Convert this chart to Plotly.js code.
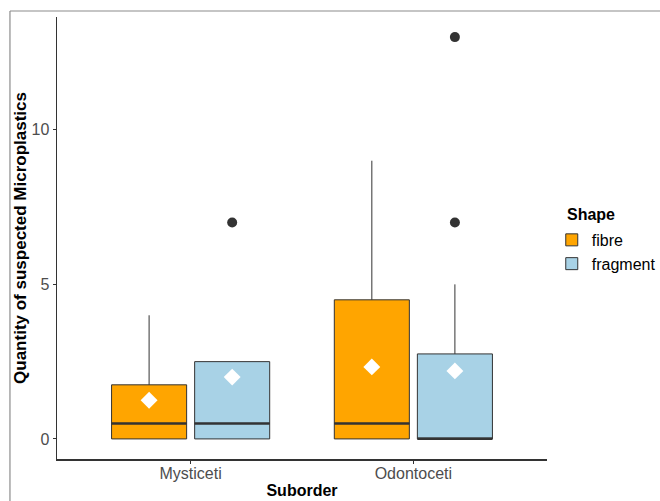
<!DOCTYPE html>
<html>
<head>
<meta charset="utf-8">
<script src="https://cdn.plot.ly/plotly-3.0.1.min.js"></script>
<style>html,body{margin:0;padding:0;background:#fff;}#chart{width:660px;height:501px;}</style>
</head>
<body>
<div id="chart"></div>
<script>
// Data
const categories = ['Mysticeti', 'Odontoceti'];
const shapes = ['fibre', 'fragment'];
const fibreLower = [0, 0];
const fibreQ1 = [0, 0];
const fibreMedian = [0.5, 0.5];
const fibreQ3 = [1.75, 4.5];
const fibreUpper = [4, 9];
const fibreMean = [1.25, 2.33];
const fragmentLower = [0, 0];
const fragmentQ1 = [0, 0];
const fragmentMedian = [0.5, 0];
const fragmentQ3 = [2.5, 2.75];
const fragmentUpper = [2.5, 5];
const fragmentMean = [2.0, 2.2];
const fragmentOutlierCat = ['Mysticeti', 'Odontoceti', 'Odontoceti'];
const fragmentOutlierVal = [7, 7, 13];

const colors = {fibre: '#FFA500', fragment: '#A8D2E6'};
const dodge = 0.373;
const boxW = 0.337;
const idx = c => categories.indexOf(c);
const pos = (c, k) => idx(c) + (k === 0 ? -dodge / 2 : dodge / 2);

const stats = [
  {lower: fibreLower, q1: fibreQ1, med: fibreMedian, q3: fibreQ3, upper: fibreUpper, mean: fibreMean},
  {lower: fragmentLower, q1: fragmentQ1, med: fragmentMedian, q3: fragmentQ3, upper: fragmentUpper, mean: fragmentMean}
];

const traces = [];
shapes.forEach((s, k) => {
  const st = stats[k];
  traces.push({
    type: 'box', name: s, legendgroup: s,
    x: categories.map(c => pos(c, k)),
    q1: st.q1, median: st.med, q3: st.q3,
    lowerfence: st.lower, upperfence: st.upper,
    width: boxW, whiskerwidth: 0,
    fillcolor: colors[s],
    line: {color: '#333333', width: 1},
    hoverinfo: 'skip'
  });
});
// thick median lines
shapes.forEach((s, k) => {
  const st = stats[k];
  const xs = [], ys = [];
  categories.forEach((c, i) => {
    const p = pos(c, k);
    xs.push(p - boxW / 2, p + boxW / 2, null);
    ys.push(st.med[i], st.med[i], null);
  });
  traces.push({type: 'scatter', mode: 'lines', x: xs, y: ys, showlegend: false,
    line: {color: '#333333', width: 2.4}, hoverinfo: 'skip'});
});
// outliers
traces.push({
  type: 'scatter', mode: 'markers', showlegend: false,
  x: fragmentOutlierCat.map(c => pos(c, 1)), y: fragmentOutlierVal,
  marker: {color: '#333333', size: 10}, hoverinfo: 'skip'
});
// means
shapes.forEach((s, k) => {
  traces.push({
    type: 'scatter', mode: 'markers', showlegend: false,
    x: categories.map(c => pos(c, k)), y: stats[k].mean,
    marker: {symbol: 'diamond', color: '#FFFFFF', size: 13}, hoverinfo: 'skip'
  });
});

const font = 'Liberation Sans, Arial, sans-serif';
const layout = {
  width: 660, height: 501,
  margin: {l: 57, r: 113, t: 17, b: 42, autoexpand: false},
  paper_bgcolor: '#ffffff', plot_bgcolor: '#ffffff',
  font: {family: font, color: '#4D4D4D', size: 16},
  showlegend: true,
  legend: {
    xref: 'container', yref: 'container',
    x: 0.836, y: 0.555, xanchor: 'left', yanchor: 'top',
    font: {family: font, size: 16, color: '#000'},
    tracegroupgap: 0, itemwidth: 30
  },
  annotations: [
    {text: '<b>Shape</b>', xref: 'paper', yref: 'paper', x: 1.036, y: 0.553,
     xanchor: 'left', yanchor: 'middle', showarrow: false,
     font: {family: font, size: 16, color: '#000'}}
  ],
  xaxis: {
    range: [-0.6, 1.6], tickvals: categories.map((c, i) => i), ticktext: categories,
    showgrid: false, zeroline: false, showline: true, linecolor: '#333333', linewidth: 1.5,
    ticks: 'outside', ticklen: 3, tickcolor: '#333333', ticklabelstandoff: -4,
    tickfont: {family: font, size: 16, color: '#4D4D4D'},
    title: {text: '<b>Suborder</b>', font: {family: font, size: 16, color: '#000'}, standoff: 4}
  },
  yaxis: {
    range: [-0.65, 13.65], tickvals: [0, 5, 10],
    showgrid: false, zeroline: false, showline: true, linecolor: '#333333', linewidth: 1.5,
    ticks: 'outside', ticklen: 3, tickcolor: '#333333',
    tickfont: {family: font, size: 16, color: '#4D4D4D'},
    title: {text: '<b>Quantity of suspected Microplastics</b>', font: {family: font, size: 17, color: '#000'}, standoff: 0}
  },
  shapes: [
    {type: 'line', xref: 'paper', yref: 'paper', x0: -0.096, x1: 1.25, y0: 1.0136, y1: 1.0136, line: {color: '#8c8c8c', width: 1.2}},
    {type: 'line', xref: 'paper', yref: 'paper', x0: -0.096, x1: -0.096, y0: 1.0136, y1: -0.1, line: {color: '#8c8c8c', width: 1.2}}
  ]
};

Plotly.newPlot('chart', traces, layout, {displayModeBar: false, staticPlot: true});
</script>
</body>
</html>
